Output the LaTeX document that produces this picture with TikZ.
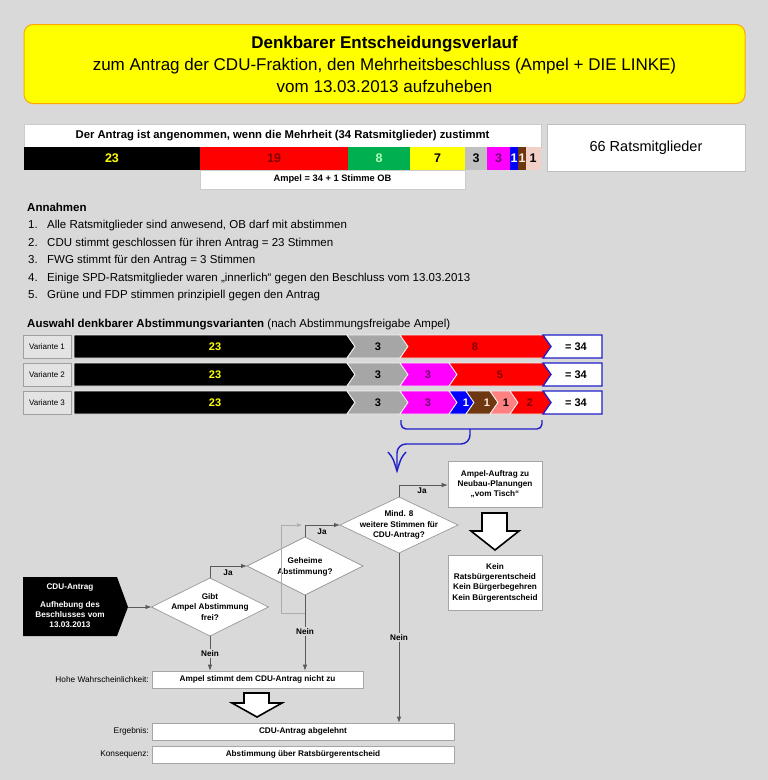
\documentclass[tikz,border=0pt]{standalone}
\usepackage{fontspec}
\setmainfont{Liberation Sans}
\usetikzlibrary{arrows.meta,calc}
\definecolor{bg}{RGB}{217,217,217}
\definecolor{tred}{RGB}{255,0,0}
\definecolor{tgreen}{RGB}{0,176,80}
\definecolor{tyellow}{RGB}{255,255,0}
\definecolor{tgray}{RGB}{192,192,192}
\definecolor{vgray}{RGB}{166,166,166}
\definecolor{tmag}{RGB}{255,0,255}
\definecolor{tblue}{RGB}{0,0,255}
\definecolor{tbrown}{RGB}{110,55,15}
\definecolor{tpink}{RGB}{242,208,200}
\definecolor{vpink}{RGB}{255,128,128}
\definecolor{dred}{RGB}{128,0,0}
\definecolor{dpurple}{RGB}{110,0,110}
\definecolor{bblue}{RGB}{30,30,200}
\definecolor{lgray}{RGB}{90,90,90}
\tikzset{
  wbox/.style={draw=gray!70, fill=white, inner sep=0pt, line width=0.6pt, align=center,
     font=\fontsize{8.2}{10.3}\selectfont\bfseries},
  vbox/.style={draw=gray!75, fill=gray!22, inner sep=0pt, line width=0.8pt,
     minimum width=48pt, minimum height=23pt, font=\fontsize{8}{9}\selectfont},
  num/.style={font=\fontsize{12.5}{13}\selectfont\bfseries, inner sep=0pt},
  vnum/.style={font=\fontsize{11}{12}\selectfont\bfseries, inner sep=0pt},
  flow/.style={draw=lgray, line width=0.8pt},
  arr/.style={flow, -{Latex[length=6pt,width=4.5pt]}},
  lab/.style={fill=bg, inner sep=1.5pt, font=\fontsize{8.2}{9}\selectfont\bfseries},
  jalab/.style={inner sep=0pt, font=\fontsize{8.2}{9}\selectfont\bfseries},
  side/.style={anchor=east, inner sep=0pt, font=\fontsize{8.3}{9}\selectfont},
  diam/.style={draw=gray!80, fill=white, line width=0.7pt},
  dtext/.style={align=center, inner sep=0pt, font=\fontsize{8.2}{10.3}\selectfont\bfseries},
  hollow/.style={draw=black, fill=white, line width=1.6pt, line join=miter},
  listt/.style={anchor=base west, inner sep=0pt, font=\fontsize{11.5}{13}\selectfont}
}
\begin{document}
\begin{tikzpicture}[x=1pt,y=-1pt]
\useasboundingbox (0,0) rectangle (768,780);
\fill[bg] (0,0) rectangle (768,780);

% Title
\node[draw=orange!70!yellow, fill=tyellow, rounded corners=9pt, line width=1pt,
      minimum width=721pt, minimum height=79pt, inner sep=0pt, align=center,
      font=\fontsize{17}{22}\selectfont] (title) at (384.5,64)
  {\bfseries Denkbarer Entscheidungsverlauf\\
   zum Antrag der CDU-Fraktion, den Mehrheitsbeschluss (Ampel + DIE LINKE)\\
   vom 13.03.2013 aufzuheben};

% Top bar
\node[draw=gray!40, fill=white, inner sep=0pt, minimum width=517pt, minimum height=23pt,
      font=\fontsize{11.3}{12}\selectfont\bfseries] (antrag) at (282.5,135.5)
  {Der Antrag ist angenommen, wenn die Mehrheit (34 Ratsmitglieder) zustimmt};
\fill[black]   (24,147) rectangle (200,170);
\fill[tred]    (200,147) rectangle (348,170);
\fill[tgreen]  (348,147) rectangle (410,170);
\fill[tyellow] (410,147) rectangle (465,170);
\fill[tgray]   (465,147) rectangle (487,170);
\fill[tmag]    (487,147) rectangle (510,170);
\fill[tblue]   (510,147) rectangle (518,170);
\fill[tbrown]  (518,147) rectangle (526,170);
\fill[tpink]   (526,147) rectangle (541,170);
\node[num, text=tyellow] (n23) at (112,158.5) {23};
\node[num, text=dred] (n19) at (274,158.5) {19};
\node[num, text=green!30!white] (n8) at (379,158.5) {8};
\node[num] (n7) at (437.5,158.5) {7};
\node[num] (n3a) at (476,158.5) {3};
\node[num, text=dpurple] (n3b) at (498.5,158.5) {3};
\node[num, text=white] (n1a) at (514,158.5) {1};
\node[num, text=white!85!orange] (n1b) at (522,158.5) {1};
\node[num] (n1c) at (533,158.5) {1};
\node[draw=gray!40, fill=white, inner sep=0pt, minimum width=265pt, minimum height=19pt,
      font=\fontsize{9.3}{10}\selectfont\bfseries] (ampel) at (332.5,179.5)
  {Ampel = 34 + 1 Stimme OB};
\node[draw=gray!50, fill=white, inner sep=0pt, minimum width=198pt, minimum height=47pt,
      font=\fontsize{14.5}{16}\selectfont] (rm) at (646,147.5) {66 Ratsmitglieder};

% Annahmen
\node[listt, font=\fontsize{11.5}{13}\selectfont\bfseries] (ann) at (27,211) {Annahmen};
\foreach \i/\yy/\txt in {1/228/{Alle Ratsmitglieder sind anwesend, OB darf mit abstimmen},
   2/246/{CDU stimmt geschlossen für ihren Antrag = 23 Stimmen},
   3/263/{FWG stimmt für den Antrag = 3 Stimmen},
   4/281/{Einige SPD-Ratsmitglieder waren „innerlich“ gegen den Beschluss vom 13.03.2013},
   5/298/{Grüne und FDP stimmen prinzipiell gegen den Antrag}} {
  \node[listt] (li\i) at (28,\yy) {\i.};
  \node[listt] (lt\i) at (47,\yy) {\txt};
}
\node[listt] (ausw) at (27,327) {\textbf{Auswahl denkbarer Abstimmungsvarianten} (nach Abstimmungsfreigabe Ampel)};

% Variants
\newcommand\vchev[4]{%
  \fill[#4, draw=white!90!gray, line width=0.8pt] (#1,#3) -- (#2,#3) -- (#2+8,#3+11.5) -- (#2,#3+23) -- (#1,#3+23) -- (#1+8,#3+11.5) -- cycle;}
\foreach \r/\yt in {1/335,2/363,3/391} {
  \node[vbox] (v\r) at (47,\yt+11.5) {Variante \r};
  \fill[black, draw=white!90!gray, line width=0.8pt] (74,\yt) -- (347,\yt) -- (355,\yt+11.5) -- (347,\yt+23) -- (74,\yt+23) -- cycle;
  \vchev{347}{400}{\yt}{vgray}
  \node[vnum, text=tyellow] (c\r) at (215,\yt+11.5) {23};
  \node[vnum] (f\r) at (378,\yt+11.5) {3};
}
% row 1
\vchev{400}{545}{335}{tred}
\node[vnum, text=dred] (r1s) at (475,346.5) {8};
% row 2
\vchev{400}{449}{363}{tmag}
\vchev{449}{545}{363}{tred}
\node[vnum, text=dpurple] (r2m) at (428,374.5) {3};
\node[vnum, text=dred] (r2s) at (500,374.5) {5};
% row 3
\vchev{400}{449}{391}{tmag}
\vchev{449}{466}{391}{tblue}
\vchev{466}{490}{391}{tbrown}
\vchev{490}{510}{391}{vpink}
\vchev{510}{545}{391}{tred}
\node[vnum, text=dpurple] (r3m) at (428,402.5) {3};
\node[vnum, text=white] (r3b) at (466,402.5) {1};
\node[vnum, text=white!85!orange] (r3br) at (487,402.5) {1};
\node[vnum] (r3p) at (506,402.5) {1};
\node[vnum, text=dred] (r3s) at (530,402.5) {2};
\foreach \r/\yt in {1/335,2/363,3/391} {
  \draw[bblue, fill=white, line width=1.3pt, line join=miter] (543,\yt) -- (602,\yt) -- (602,\yt+23) -- (543,\yt+23) -- (551,\yt+11.5) -- cycle;
  \node[vnum] (eq\r) at (576,\yt+11.5) {= 34};
}
% brace
\draw[bblue, line width=1.4pt, rounded corners=5pt] (401,420) -- (401,429) -- (542,429) -- (542,420);
\draw[bblue, line width=1.4pt, rounded corners=9pt] (470,429) -- (470,444) -- (397,444) -- (397,471);
\draw[bblue, line width=1.4pt] (388,452) .. controls (393,458) .. (397,471) .. controls (401,458) .. (406,452);

% Flowchart
\fill[black] (23,577) -- (117,577) -- (128,607) -- (117,636) -- (23,636) -- cycle;
\coordinate (cdu) at (128,607);
\node[text=white, align=center, inner sep=0pt, font=\fontsize{8.2}{10}\selectfont\bfseries] (cdut) at (70,606)
  {CDU-Antrag\\[8pt]Aufhebung des\\Beschlusses vom\\13.03.2013};

% diamond 1
\coordinate (d1l) at (151.5,607); \coordinate (d1t) at (210,578);
\coordinate (d1r) at (268.5,607); \coordinate (d1b) at (210,636);
\draw[diam] (d1l) -- (d1t) -- (d1r) -- (d1b) -- cycle;
\node[dtext] (d1) at (210,607) {Gibt\\Ampel Abstimmung\\frei?};
% diamond 2
\coordinate (d2l) at (247,566); \coordinate (d2t) at (305,537);
\coordinate (d2r) at (363,566); \coordinate (d2b) at (305,595);
\draw[diam] (d2l) -- (d2t) -- (d2r) -- (d2b) -- cycle;
\node[dtext] (d2) at (305,567) {Geheime\\Abstimmung?};
% diamond 3
\coordinate (d3l) at (340,525); \coordinate (d3t) at (399,497);
\coordinate (d3r) at (458,525); \coordinate (d3b) at (399,553);
\draw[diam] (d3l) -- (d3t) -- (d3r) -- (d3b) -- cycle;
\node[dtext] (d3) at (399,525) {Mind. 8\\weitere Stimmen für\\CDU-Antrag?};

% boxes
\node[wbox, minimum width=94pt, minimum height=46pt] (auftrag) at (495,484)
  {Ampel-Auftrag zu\\Neubau-Planungen\\„vom Tisch“};
\node[wbox, minimum width=94pt, minimum height=55pt] (kein) at (495,582.5)
  {Kein\\Ratsbürgerentscheid\\Kein Bürgerbegehren\\Kein Bürgerentscheid};
\node[wbox, minimum width=211pt, minimum height=17pt] (amp) at (257.5,679.5)
  {Ampel stimmt dem CDU-Antrag nicht zu};
\node[wbox, minimum width=302pt, minimum height=17pt] (erg) at (303,731.5)
  {CDU-Antrag abgelehnt};
\node[wbox, minimum width=302pt, minimum height=17pt] (kons) at (303,754.5)
  {Abstimmung über Ratsbürgerentscheid};
\node[side] (sl1) at (149,679.5) {Hohe Wahrscheinlichkeit:};
\node[side] (sl2) at (149,731.5) {Ergebnis:};
\node[side] (sl3) at (149,754.5) {Konsequenz:};

% connectors
\draw[arr] (cdu) -- (d1l);
\draw[arr] (d1t) |- (d2l);
\node[jalab] (ja1) at (228,573) {Ja};
\draw[arr] (d2t) |- (d3l);
\node[jalab] (ja2) at (322,532) {Ja};
\draw[arr] (d3t) |- (auftrag.west |- 0,485);
\node[jalab] (ja3) at (422,491) {Ja};
\coordinate (loopa) at (305,613);
\draw[gray!65, line width=0.6pt, -{Latex[length=5pt,width=4pt]}] (loopa) -| (281,525) -- (302,525);
\draw[arr] (d1b) -- node[lab, pos=0.5] {Nein} (d1b |- amp.north);
\draw[arr] (d2b) -- node[lab, pos=0.48] {Nein} (d2b |- amp.north);
\draw[arr] (d3b) -- node[lab, pos=0.5] {Nein} (d3b |- erg.north);

% hollow arrows
\draw[hollow] (482,513) -- (507,513) -- (507,531) -- (519,531) -- (495,550) -- (471,531) -- (482,531) -- cycle;
\draw[hollow] (244,693) -- (269,693) -- (269,703) -- (282,703) -- (257,717) -- (232,703) -- (244,703) -- cycle;
\end{tikzpicture}
\end{document}
